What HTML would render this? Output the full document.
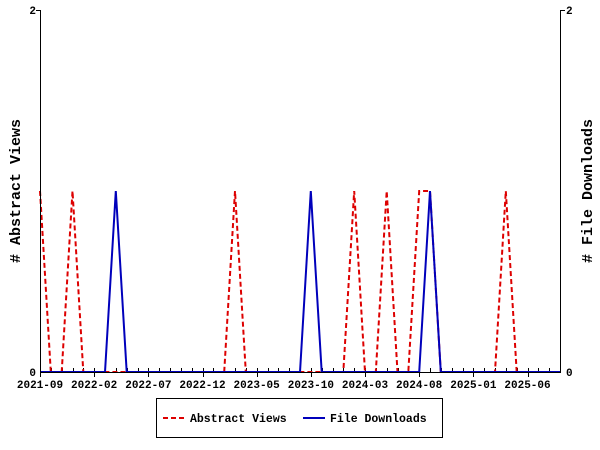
<!DOCTYPE html>
<html><head><meta charset="utf-8"><style>
body{margin:0;background:#fff;}
svg{display:block;font-family:"Liberation Mono","DejaVu Sans Mono",monospace;}
</style></head><body>
<svg id="s" width="600" height="450" viewBox="0 0 600 450" xmlns="http://www.w3.org/2000/svg">
<rect width="600" height="450" fill="#fff"/>
<g id="ticks" stroke="#000" stroke-width="1"></g>
<polyline id="red" fill="none" stroke="#dd0000" stroke-width="2" stroke-dasharray="5,3"/>
<polyline id="blue" fill="none" stroke="#0000bb" stroke-width="2"/>
<line x1="40.5" y1="10" x2="40.5" y2="372" stroke="#000"/>
<line x1="560.5" y1="10" x2="560.5" y2="372" stroke="#000"/>
<line x1="40" y1="372.5" x2="561" y2="372.5" stroke="#000"/>
<line x1="36" y1="10.5" x2="40" y2="10.5" stroke="#000"/>
<line x1="561" y1="10.5" x2="565" y2="10.5" stroke="#000"/>
<g font-weight="bold" fill="#000">
<g font-size="11">
<text x="36" y="14" text-anchor="end">2</text>
<text x="36" y="376" text-anchor="end">0</text>
<text x="566" y="14">2</text>
<text x="566" y="376">0</text>
<g id="xl" text-anchor="middle"></g>
</g>
<text transform="translate(20,191) rotate(-90)" text-anchor="middle" font-size="15"># Abstract Views</text>
<text transform="translate(592,191) rotate(-90)" text-anchor="middle" font-size="15"># File Downloads</text>
</g>
<rect x="156.5" y="398.5" width="286" height="39" fill="none" stroke="#000"/>
<line x1="163" y1="418" x2="184" y2="418" stroke="#dd0000" stroke-width="2" stroke-dasharray="5,3"/>
<line x1="303" y1="418" x2="325" y2="418" stroke="#0000bb" stroke-width="2"/>
<text x="190" y="422" font-size="11.5" font-weight="bold">Abstract Views</text>
<text x="330" y="422" font-size="11.5" font-weight="bold">File Downloads</text>
</svg>
<script>
var dx=520/48,X=function(m){return 40+m*dx;};
var t=document.getElementById('ticks'),xl=document.getElementById('xl'),ns='http://www.w3.org/2000/svg';
var labs=['2021-09','2022-02','2022-07','2022-12','2023-05','2023-10','2024-03','2024-08','2025-01','2025-06'];
for(var m=0;m<=48;m++){var x=Math.round(X(m))+0.5,l=document.createElementNS(ns,'line');
l.setAttribute('x1',x);l.setAttribute('x2',x);l.setAttribute('y1',368);l.setAttribute('y2',m%5==0?377:372);t.appendChild(l);
if(m%5==0&&m/5<labs.length){var tx=document.createElementNS(ns,'text');tx.setAttribute('x',X(m));tx.setAttribute('y',388);tx.textContent=labs[m/5];xl.appendChild(tx);}}
function pts(ones){var p=[];for(var m=0;m<=48;m++){p.push(X(m).toFixed(1)+','+(ones.indexOf(m)>=0?191:372));}return p.join(' ');}
document.getElementById('red').setAttribute('points',pts([0,3,18,29,32,35,36,43]));
document.getElementById('blue').setAttribute('points',pts([7,25,36]));
</script>
</body></html>
